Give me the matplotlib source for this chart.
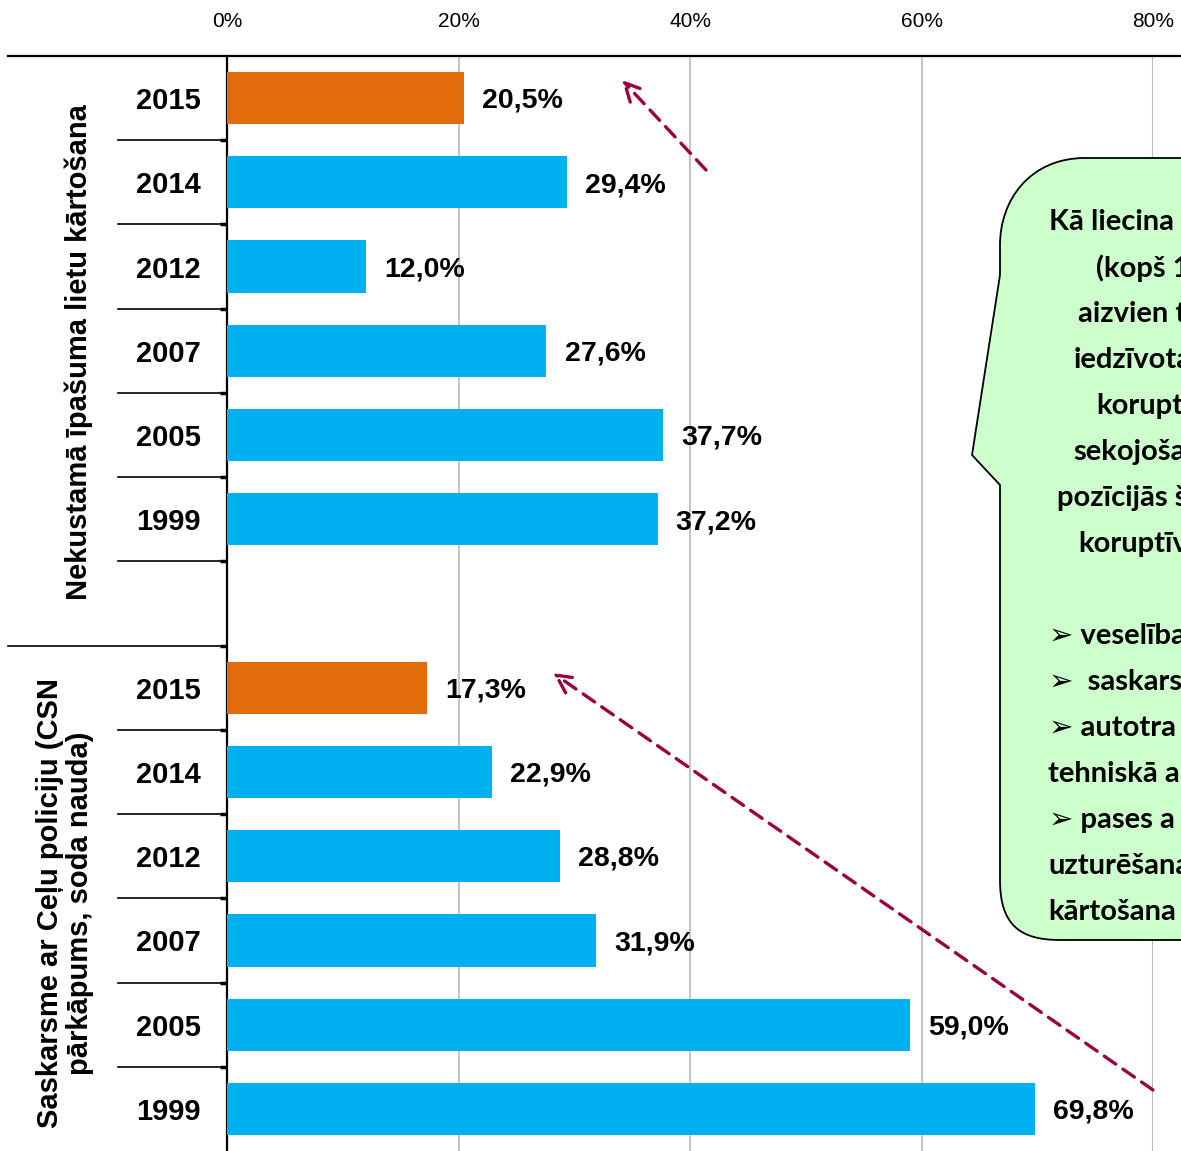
import matplotlib
matplotlib.use("Agg")
import matplotlib.pyplot as plt
from matplotlib.path import Path
from matplotlib.patches import PathPatch
from matplotlib.lines import Line2D
import matplotlib.transforms as mtransforms

plt.rcParams['font.family'] = ['Liberation Sans', 'DejaVu Sans']

# ---- data ----
group1_label = "Nekustamā īpašuma lietu kārtošana"
group2_label = "Saskarsme ar Ceļu policiju (CSN\npārkāpums, soda nauda)"
years = ["2015", "2014", "2012", "2007", "2005", "1999"]
values_group1 = [20.5, 29.4, 12.0, 27.6, 37.7, 37.2]
values_group2 = [17.3, 22.9, 28.8, 31.9, 59.0, 69.8]
xticks = [0, 20, 40, 60, 80]
xtick_labels = ["0%", "20%", "40%", "60%", "80%"]
callout_lines = ["Kā liecina", "(kopš 1", "aizvien t", "iedzīvota", "korupt",
                 "sekojoša", "pozīcijās š", "koruptīv", "",
                 "➢ veselība", "➢  saskars", "➢ autotra", "tehniskā a",
                 "➢ pases a", "uzturēšana", "kārtošana"]

W, H = 1181, 1151
fig = plt.figure(figsize=(W / 100, H / 100), dpi=100)


def fx(px):
    return px / W


def fy(py):
    return 1 - py / H


ax = fig.add_axes([fx(227), 0, fx(1153) - fx(227), fy(56)])

orange = "#E36C0A"
blue = "#00B0F0"

pos1 = list(range(0, 6))
pos2 = list(range(7, 13))
colors = [orange] + [blue] * 5
ax.barh(pos1, values_group1, height=0.62, color=colors, zorder=3)
ax.barh(pos2, values_group2, height=0.62, color=colors, zorder=3)

for p, v in list(zip(pos1, values_group1)) + list(zip(pos2, values_group2)):
    ax.annotate(f"{v:.1f}%".replace(".", ","), xy=(v, p), xytext=(13, -2),
                textcoords="offset points", ha="left", va="center",
                fontsize=20.5, fontweight="bold", color="black", zorder=4)

ax.set_xlim(0, 80)
ax.set_ylim(12.5, -0.5)

ax.xaxis.tick_top()
ax.set_xticks(xticks)
ax.set_xticklabels(xtick_labels, fontsize=15)
ax.tick_params(axis="x", length=0, pad=18)
ax.grid(axis="x", color="#BFBFBF", linewidth=1.3, zorder=0)
ax.axvline(80, color="#999999", linewidth=1.5, zorder=1)

ax.set_yticks(pos1 + pos2)
ax.set_yticklabels(years + years, fontsize=21, fontweight="bold")
ax.tick_params(axis="y", which="major", length=0, pad=19)
ax.set_yticks([b + 0.5 for b in range(0, 12)], minor=True)
ax.tick_params(axis="y", which="minor", length=5, width=2.5, color="black")

for s in ["top", "right", "bottom"]:
    ax.spines[s].set_visible(False)
ax.spines["left"].set_linewidth(1.6)
ax.spines["left"].set_color("black")

# separators in the category area
blend = mtransforms.blended_transform_factory(fig.transFigure, ax.transData)
for b in range(0, 12):
    yb = b + 0.5
    x0 = fx(8) if b == 6 else fx(118)
    ax.add_line(Line2D([x0, fx(227)], [yb, yb], transform=blend,
                       color="black", linewidth=1.2, clip_on=False))

# top axis line across the figure
fig.add_artist(Line2D([fx(8), 1.0], [fy(56), fy(56)], color="black",
                      linewidth=1.6))

# group labels
fig.text(fx(79), fy(352), group1_label, rotation=90, ha="center",
         va="center", fontsize=21, fontweight="bold")
fig.text(fx(65), fy(903), group2_label, rotation=90, ha="center",
         va="center", fontsize=21, fontweight="bold", multialignment="center",
         linespacing=1.12)

# callout
verts = [
    (1400, 158), (1085, 158),
    (1030, 158), (1000, 200), (1000, 245),
    (1000, 275), (972, 455), (1000, 485),
    (1000, 880),
    (1000, 925), (1020, 940), (1060, 940),
    (1400, 940), (1400, 158),
]
codes = [Path.MOVETO, Path.LINETO,
         Path.CURVE4, Path.CURVE4, Path.CURVE4,
         Path.LINETO, Path.LINETO, Path.LINETO,
         Path.LINETO,
         Path.CURVE4, Path.CURVE4, Path.CURVE4,
         Path.LINETO, Path.CLOSEPOLY]
path = Path([(fx(x), fy(y)) for x, y in verts], codes)
fig.add_artist(PathPatch(path, facecolor="#CCFFCC", edgecolor="black",
                         linewidth=1.3, transform=fig.transFigure, zorder=5))

line_x = [1049, 1096, 1078, 1074, 1096, 1073, 1057, 1078, 1049,
          1049, 1049, 1049, 1048, 1049, 1048, 1048]
for i, (t, lx) in enumerate(zip(callout_lines, line_x)):
    if not t:
        continue
    txt = fig.text(fx(lx), fy(222 + i * 46.0), t, ha="left", va="center",
                   fontsize=21, fontweight="bold",
                   family=["Lato", "DejaVu Sans"], zorder=6)
    txt.set_clip_box(fig.bbox)
    txt.set_clip_on(True)

# dashed arrows
arrow_color = "#99003D"
for (x0, y0), (x1, y1) in [((706, 170), (622, 80)),
                           ((1153, 1090), (553, 673))]:
    ax.annotate("", xy=(fx(x1), fy(y1)), xytext=(fx(x0), fy(y0)),
                xycoords="figure fraction", textcoords="figure fraction",
                arrowprops=dict(arrowstyle="->,head_length=1.3,head_width=0.65",
                                color=arrow_color, linewidth=2.4,
                                linestyle=(0, (4.2, 2.6)),
                                shrinkA=0, shrinkB=0),
                annotation_clip=False, zorder=7)

fig.savefig("out.png", dpi=100)
